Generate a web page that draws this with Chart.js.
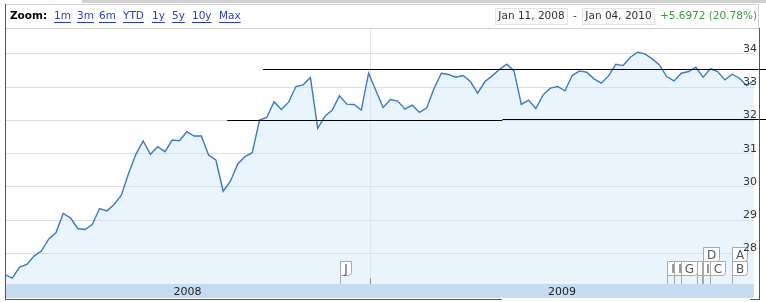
<!DOCTYPE html>
<html>
<head>
<meta charset="utf-8">
<script src="https://cdn.jsdelivr.net/npm/chart.js@4/dist/chart.umd.min.js"></script>
<style>
  html, body { margin: 0; padding: 0; background: #fff; }
  #wrap { width: 766px; height: 302px; }
</style>
</head>
<body>
<div id="wrap"><canvas id="priceChart" width="766" height="302"></canvas></div>
<script>
// ====== Data (weekly closes, Jan 11 2008 - Jan 04 2010) ======
const prices = [
  27.36, 27.26, 27.59, 27.67, 27.92, 28.07, 28.43, 28.62, 29.20, 29.07,
  28.75, 28.72, 28.87, 29.35, 29.28, 29.47, 29.75, 30.41, 30.98, 31.38,
  30.98, 31.21, 31.06, 31.41, 31.39, 31.66, 31.53, 31.53, 30.96, 30.81,
  29.87, 30.17, 30.69, 30.91, 31.03, 32.01, 32.09, 32.56, 32.33, 32.55,
  33.02, 33.07, 33.29, 31.76, 32.13, 32.31, 32.74, 32.49, 32.48, 32.31,
  33.42, 32.90, 32.39, 32.63, 32.58, 32.34, 32.46, 32.24, 32.38, 32.96,
  33.42, 33.38, 33.30, 33.35, 33.17, 32.82, 33.17, 33.34, 33.54, 33.69,
  33.49, 32.48, 32.61, 32.36, 32.77, 32.97, 33.02, 32.89, 33.35, 33.49,
  33.45, 33.25, 33.12, 33.34, 33.69, 33.65, 33.90, 34.05, 34.00, 33.85,
  33.67, 33.32, 33.19, 33.42, 33.47, 33.60, 33.30, 33.55, 33.47, 33.22,
  33.39, 33.27, 33.05, 33.20
];
const weekIndex = prices.map((p, i) => i);

// year band along the bottom
const yearLabels = ['2008', '2009'];
const yearStart = [0, 50.2];          // position on the week axis

// y axis tick labels
const yTicks = [28, 29, 30, 31, 32, 33, 34];

// drawn horizontal levels: value, from week, to week (null = right edge)
const levelValue = [33.54, 32.00, 32.03];
const levelFrom  = [35.5, 30.56, 68.4];
const levelTo    = [null, 68.4, null];

// event flags
const flagLetters = ['J', 'I', 'I', 'G', 'I', 'I', 'C', 'B', 'D', 'A'];
const flagWeek    = [46, 91.0, 92.0, 93.0, 95.2, 95.9, 96.9, 100, 96.0, 100];
const flagRow     = [0, 0, 0, 0, 0, 0, 0, 0, 1, 1];

// header
const zoomLinks = ['1m', '3m', '6m', 'YTD', '1y', '5y', '10y', 'Max'];
const rangeFrom = 'Jan 11, 2008';
const rangeTo = 'Jan 04, 2010';
const changeText = '+5.6972 (20.78%)';

const FONT = '"DejaVu Sans", Verdana, sans-serif';
const linkX = [54, 77, 99, 123, 152, 172, 192, 219];

// ====== Frame / header / band / flags ======
const framePlugin = {
  id: 'frame',
  beforeDraw(chart) {
    const ctx = chart.ctx;
    ctx.save();
    ctx.fillStyle = '#fff';
    ctx.fillRect(0, 0, chart.width, chart.height);
    ctx.fillStyle = '#d0d0d0';
    ctx.fillRect(82, 0, 684, 3);

    // header text
    ctx.textBaseline = 'middle';
    ctx.fillStyle = '#000';
    ctx.font = 'bold 10.5px ' + FONT;
    ctx.fillText('Zoom:', 10, 16);
    ctx.font = '10.5px ' + FONT;
    zoomLinks.forEach((t, i) => {
      const w = ctx.measureText(t).width;
      ctx.fillStyle = '#2a3db8';
      ctx.fillText(t, linkX[i], 16);
      ctx.fillRect(linkX[i], 22, w, 1);
    });

    // date range boxes
    ctx.strokeStyle = '#e2e2e2';
    ctx.fillStyle = '#fcfcfc';
    ctx.fillRect(495, 8, 72, 17);
    ctx.strokeRect(495.5, 8.5, 72, 16);
    ctx.fillRect(582, 8, 72, 17);
    ctx.strokeRect(582.5, 8.5, 72, 16);
    ctx.fillStyle = '#333';
    ctx.textAlign = 'center';
    ctx.fillText(rangeFrom, 531.5, 16);
    ctx.fillText('-', 575, 16);
    ctx.fillText(rangeTo, 618.5, 16);
    ctx.fillStyle = '#3a9a3a';
    ctx.textAlign = 'right';
    ctx.fillText(changeText, 757, 16);
    ctx.restore();
  },
  beforeDatasetsDraw(chart) {
    const ctx = chart.ctx, xs = chart.scales.x, a = chart.chartArea;
    ctx.save();
    // year divider
    yearStart.slice(1).forEach(w => {
      const px = Math.round(xs.getPixelForValue(w)) + 0.5;
      ctx.strokeStyle = '#e0e4ec';
      ctx.beginPath(); ctx.moveTo(px, a.top); ctx.lineTo(px, a.bottom); ctx.stroke();
    });
    ctx.restore();
  },
  afterDatasetsDraw(chart) {
    const ctx = chart.ctx, xs = chart.scales.x, ys = chart.scales.y, a = chart.chartArea;
    ctx.save();

    // drawn levels
    ctx.strokeStyle = '#000';
    ctx.lineWidth = 1;
    levelValue.forEach((v, i) => {
      const py = Math.round(ys.getPixelForValue(v)) + 0.5;
      const x0 = xs.getPixelForValue(levelFrom[i]);
      const x1 = levelTo[i] === null ? chart.width : xs.getPixelForValue(levelTo[i]);
      ctx.beginPath(); ctx.moveTo(x0, py); ctx.lineTo(x1, py); ctx.stroke();
    });

    // bottom band
    ctx.fillStyle = '#c6dbf2';
    ctx.fillRect(a.left, a.bottom, a.right - a.left, 14);
    ctx.fillStyle = '#222';
    ctx.font = '11px ' + FONT;
    ctx.textAlign = 'center';
    ctx.textBaseline = 'middle';
    yearLabels.forEach((t, i) => {
      const x0 = xs.getPixelForValue(yearStart[i]);
      const x1 = i + 1 < yearStart.length ? xs.getPixelForValue(yearStart[i + 1]) : a.right;
      ctx.fillText(t, (x0 + x1) / 2, a.bottom + 8);
    });
    yearStart.slice(1).forEach(w => {
      const px = Math.round(xs.getPixelForValue(w)) + 0.5;
      ctx.strokeStyle = '#8a8a8a';
      ctx.beginPath(); ctx.moveTo(px, a.bottom - 6); ctx.lineTo(px, a.bottom); ctx.stroke();
    });

    // flags (box width follows the letter)
    ctx.font = '12px ' + FONT;
    flagLetters.forEach((t, i) => {
      const bx = Math.round(xs.getPixelForValue(flagWeek[i])) + 0.5;
      const by = a.bottom - 22.5 - flagRow[i] * 14;
      const w = Math.round(ctx.measureText(t).width) + 7, h = 14, r = 3;
      ctx.strokeStyle = '#a8a8a8';
      ctx.beginPath(); ctx.moveTo(bx, by + h); ctx.lineTo(bx, a.bottom); ctx.stroke();
      ctx.beginPath();
      ctx.moveTo(bx, by);
      ctx.lineTo(bx + w, by);
      ctx.lineTo(bx + w, by + h - r);
      ctx.quadraticCurveTo(bx + w, by + h, bx + w - r, by + h);
      ctx.lineTo(bx, by + h);
      ctx.closePath();
      ctx.fillStyle = '#fff';
      ctx.fill();
      ctx.stroke();
      ctx.fillStyle = '#555';
      ctx.fillText(t, bx + w / 2, by + h / 2 + 1);
    });

    // outer borders
    ctx.strokeStyle = '#cfcfcf';
    ctx.beginPath();
    ctx.moveTo(5, 4.5); ctx.lineTo(759, 4.5);
    ctx.moveTo(5, 28.5); ctx.lineTo(759, 28.5);
    ctx.moveTo(758.5, 4); ctx.lineTo(758.5, 28);
    ctx.stroke();
    ctx.strokeStyle = '#555';
    ctx.beginPath();
    ctx.moveTo(5.5, 4); ctx.lineTo(5.5, 300);
    ctx.moveTo(759.5, 28); ctx.lineTo(759.5, 300);
    ctx.moveTo(5, 299.5); ctx.lineTo(502, 299.5);
    ctx.moveTo(750, 299.5); ctx.lineTo(760, 299.5);
    ctx.stroke();
    ctx.restore();
  }
};

// ====== Chart ======
const ctxPrice = document.getElementById('priceChart').getContext('2d');
const priceChart = new Chart(ctxPrice, {
  type: 'line',
  data: {
    labels: weekIndex,
    datasets: [{
      data: prices,
      borderColor: '#3b78c6',
      backgroundColor: 'rgba(202,227,250,0.4)',
      borderWidth: 1.4,
      fill: 'start',
      tension: 0,
      pointRadius: 0
    }]
  },
  options: {
    responsive: false,
    animation: false,
    layout: { padding: { left: 5, right: 6, top: 28, bottom: 18 } },
    plugins: { legend: { display: false }, tooltip: { enabled: false } },
    scales: {
      x: { display: false, offset: false },
      y: {
        position: 'right',
        min: 27.08,
        max: 34.78,
        afterBuildTicks: s => { s.ticks = yTicks.map(v => ({ value: v })); },
        grid: { color: '#dedede', drawTicks: false },
        border: { display: false },
        ticks: {
          mirror: true,
          z: 1,
          padding: 3,
          labelOffset: -5,
          color: '#333',
          font: { family: FONT, size: 11 }
        }
      }
    }
  },
  plugins: [framePlugin]
});
</script>
</body>
</html>
